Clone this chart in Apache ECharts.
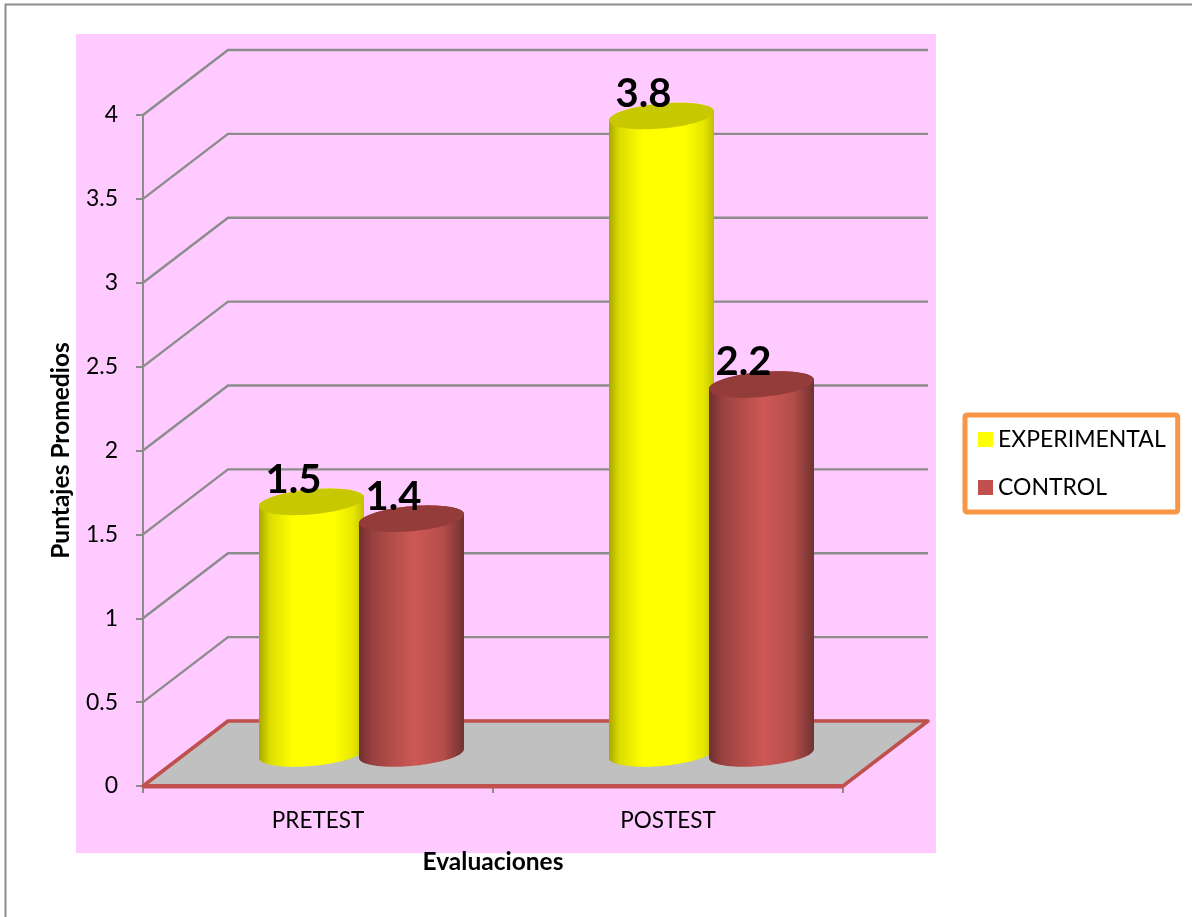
<!DOCTYPE html>
<html>
<head>
<meta charset="utf-8">
<style>html,body{margin:0;padding:0;background:#fff}#c{width:1192px;height:917px}</style>
<script src="https://cdn.jsdelivr.net/npm/echarts@6/dist/echarts.min.js"></script>
</head>
<body>
<div id="c"></div>
<script>
const categories = ['PRETEST', 'POSTEST'];
const experimental = [1.5, 3.8];
const control = [1.4, 2.2];
const valueTicks = [0, 0.5, 1, 1.5, 2, 2.5, 3, 3.5, 4];
const seriesNames = ['EXPERIMENTAL', 'CONTROL'];

const FONT = 'Lato, "Open Sans", sans-serif';
const DX = 85, DY = -65;       // depth of the 3D box
const HALF = 52.5, SHEAR = 4.5, RY = 12.5;  // cylinder ellipse
const chart = echarts.init(document.getElementById('c'), null, {renderer: 'canvas'});

function ellipsePts(cx, cy, from, to, n) {
  const pts = [];
  for (let i = 0; i <= n; i++) {
    const t = from + (to - from) * i / n;
    pts.push([cx + HALF * Math.cos(t), cy + RY * Math.sin(t) - SHEAR * Math.cos(t)]);
  }
  return pts;
}

function cylinder(offset, body, topColor) {
  return function (params, api) {
    const base = api.coord([api.value(0), 0]);
    const top = api.coord([api.value(0), api.value(1)]);
    const cx = base[0] + DX / 2 + offset;
    const by = base[1] + DY / 2;
    const ty = top[1] + DY / 2;
    const lower = ellipsePts(cx, by, 0, Math.PI, 40);   // right → front → left
    const upper = ellipsePts(cx, ty, Math.PI, 2 * Math.PI, 40); // left → back → right
    const lid = ellipsePts(cx, ty, 0, 2 * Math.PI, 80);
    return {
      type: 'group',
      children: [
        {type: 'polygon', shape: {points: lower.concat(upper)},
         style: {fill: {type: 'linear', x: 0, y: 0, x2: 1, y2: 0, colorStops: body}}},
        {type: 'polygon', shape: {points: lid}, style: {fill: topColor}},
        {type: 'text', x: cx - 18, y: ty - 2,
         style: {text: api.value(1).toFixed(1), fontFamily: FONT, fontWeight: 'bold', fontSize: 40,
                  fill: '#000', align: 'center', verticalAlign: 'bottom'}}
      ]
    };
  };
}

const yellowBody = [
  {offset: 0, color: '#a8a800'}, {offset: 0.1, color: '#dcdc00'}, {offset: 0.32, color: '#ffff00'},
  {offset: 0.72, color: '#ffff00'}, {offset: 0.9, color: '#e6e600'}, {offset: 1, color: '#c0c000'}
];
const redBody = [
  {offset: 0, color: '#6f2f2e'}, {offset: 0.12, color: '#97403e'}, {offset: 0.33, color: '#b54d4a'},
  {offset: 0.52, color: '#cd5856'}, {offset: 0.8, color: '#b54d4a'}, {offset: 1, color: '#6f3231'}
];

chart.setOption({
  animation: false,
  backgroundColor: '#ffffff',
  graphic: [
    {type: 'rect', z: -10, shape: {x: 76, y: 34, width: 860, height: 819}, style: {fill: '#FFCAFF'}},
    {type: 'polyline', z: -10, shape: {points: [[5.5, 917], [5.5, 4.5], [1192, 4.5]]},
     style: {stroke: '#8c8c8c', lineWidth: 2, fill: null}}
  ],
  grid: {left: 143, top: 115, width: 700, height: 671, containLabel: false},
  xAxis: {
    type: 'category', data: categories,
    name: 'Evaluaciones', nameLocation: 'middle', nameGap: 64,
    nameTextStyle: {fontFamily: FONT, fontWeight: 'bold', fontSize: 24.5, color: '#000'},
    axisLine: {lineStyle: {color: '#8c8c8c', width: 2}},
    axisTick: {show: true, length: 7, lineStyle: {color: '#8c8c8c', width: 2}},
    axisLabel: {fontFamily: FONT, fontSize: 22.5, color: '#000', margin: 23},
    splitLine: {show: false}
  },
  yAxis: {
    type: 'value', min: 0, max: 4, interval: 0.5,
    name: 'Puntajes Promedios', nameLocation: 'middle', nameGap: 69,
    nameTextStyle: {fontFamily: FONT, fontWeight: 'bold', fontSize: 24.5, color: '#000'},
    axisLine: {show: true, lineStyle: {color: '#8c8c8c', width: 2}},
    axisTick: {show: true, length: 7, lineStyle: {color: '#8c8c8c', width: 2}},
    axisLabel: {fontFamily: FONT, fontSize: 23, color: '#000', margin: 25, padding: [2, 0, 0, 0]},
    splitLine: {show: false}
  },
  legend: {
    data: seriesNames, orient: 'vertical', left: 965, top: 415,
    padding: [13, 12, 13, 13], itemGap: 25, itemWidth: 15, itemHeight: 15,
    icon: 'rect', selectedMode: false,
    borderColor: '#F79646', borderWidth: 5, borderRadius: 2, backgroundColor: '#fff',
    textStyle: {fontFamily: FONT, fontSize: 23, color: '#000'}
  },
  series: [
    {
      type: 'custom', name: 'walls', z: 1, silent: true,
      data: valueTicks.map(v => [0, v]),
      encode: {x: 0, y: 1},
      renderItem(params, api) {
        const cs = params.coordSys;
        const y = api.coord([0, api.value(1)])[1];
        return {type: 'polyline',
          shape: {points: [[cs.x, y], [cs.x + DX, y + DY], [cs.x + cs.width + DX, y + DY]]},
          style: {stroke: '#8c8c8c', lineWidth: 2.4, fill: null}};
      }
    },
    {
      type: 'custom', name: 'floor', z: 2, silent: true,
      data: [[0, 0]],
      encode: {x: 0, y: 1},
      renderItem(params, api) {
        const cs = params.coordSys;
        const y = api.coord([0, 0])[1];
        return {type: 'group', children: [
          {type: 'polygon',
           shape: {points: [[cs.x, y], [cs.x + DX, y + DY], [cs.x + cs.width + DX, y + DY], [cs.x + cs.width, y]]},
           style: {fill: '#C0C0C0', stroke: '#C0504D', lineWidth: 3.5, lineJoin: 'round'}},
          {type: 'line', shape: {x1: cs.x, y1: y + 0.3, x2: cs.x + cs.width, y2: y + 0.3},
           style: {stroke: '#C0504D', lineWidth: 4.5}}
        ]};
      }
    },
    {
      type: 'custom', name: seriesNames[0], z: 3, silent: true,
      itemStyle: {color: '#FFFF00'},
      data: experimental.map((v, i) => [i, v]),
      encode: {x: 0, y: 1},
      renderItem: cylinder(-49, yellowBody, '#C8C800')
    },
    {
      type: 'custom', name: seriesNames[1], z: 4, silent: true,
      itemStyle: {color: '#C0504D'},
      data: control.map((v, i) => [i, v]),
      encode: {x: 0, y: 1},
      renderItem: cylinder(51, redBody, '#933C3A')
    }
  ]
});
</script>
</body>
</html>
